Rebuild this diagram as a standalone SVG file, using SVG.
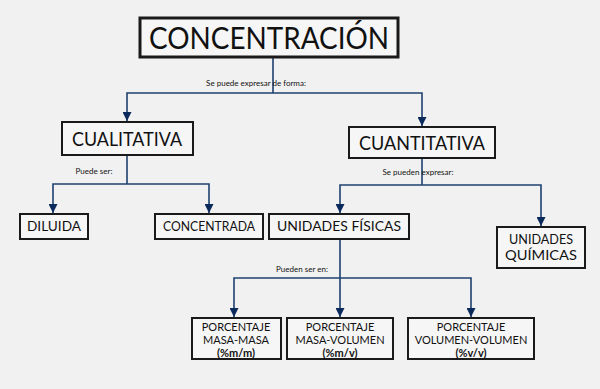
<svg xmlns="http://www.w3.org/2000/svg" width="600" height="389" viewBox="0 0 600 389">
<defs>
<style>
.box{fill:#f6f6f6;stroke:#1a1a1a;stroke-width:2}
.big{stroke-width:3}
.t{font-family:Lato,"Open Sans",sans-serif;fill:#111;text-anchor:middle}
.lbl{font-family:Lato,"Open Sans",sans-serif;fill:#111;font-size:8px;text-anchor:middle}
.c{fill:none;stroke:#1f4170;stroke-width:1.6}
</style>
<marker id="ah" viewBox="0 0 10 10" refX="10" refY="5" markerWidth="9" markerHeight="9" markerUnits="userSpaceOnUse" orient="auto">
<path d="M0,0 L10,5 L0,10 z" fill="#0b2a5c"/>
</marker>
</defs>
<rect width="600" height="389" fill="#f1f1f1"/>
<g id="connectors">
<path class="c" d="M273,57 V93"/>
<path class="c" d="M273,93 H127 V121" marker-end="url(#ah)"/>
<path class="c" d="M273,93 H422 V126" marker-end="url(#ah)"/>
<path class="c" d="M127,155 V184"/>
<path class="c" d="M127,184 H53 V213" marker-end="url(#ah)"/>
<path class="c" d="M127,184 H209 V213" marker-end="url(#ah)"/>
<path class="c" d="M422,158 V185"/>
<path class="c" d="M422,185 H340 V213" marker-end="url(#ah)"/>
<path class="c" d="M422,185 H541 V226" marker-end="url(#ah)"/>
<path class="c" d="M340,239 V317" marker-end="url(#ah)"/>
<path class="c" d="M340,278 H234 V317" marker-end="url(#ah)"/>
<path class="c" d="M340,278 H471 V317" marker-end="url(#ah)"/>
<text class="lbl" x="256" y="86">Se puede expresar de forma:</text>
<text class="lbl" x="94" y="174">Puede ser:</text>
<text class="lbl" x="418" y="175">Se pueden expresar:</text>
<text class="lbl" x="302" y="272">Pueden ser en:</text>
</g>
<g id="concentracion">
<rect class="box big" x="140" y="18" width="258" height="39"/>
<text class="t" x="269" y="49" font-size="30" textLength="240" lengthAdjust="spacingAndGlyphs">CONCENTRACIÓN</text>
</g>
<g id="cualitativa">
<rect class="box" x="62" y="122" width="131" height="33"/>
<text class="t" x="127" y="146" font-size="20" textLength="110" lengthAdjust="spacingAndGlyphs">CUALITATIVA</text>
</g>
<g id="cuantitativa">
<rect class="box" x="349" y="127" width="146" height="31"/>
<text class="t" x="422" y="150" font-size="20" textLength="126" lengthAdjust="spacingAndGlyphs">CUANTITATIVA</text>
</g>
<g id="diluida">
<rect class="box" x="20" y="214" width="68" height="25"/>
<text class="t" x="54" y="231" font-size="13" textLength="54" lengthAdjust="spacingAndGlyphs">DILUIDA</text>
</g>
<g id="concentrada">
<rect class="box" x="155" y="214" width="108" height="25"/>
<text class="t" x="209" y="231" font-size="13" textLength="92" lengthAdjust="spacingAndGlyphs">CONCENTRADA</text>
</g>
<g id="unidades-fisicas">
<rect class="box" x="269" y="214" width="140" height="25"/>
<text class="t" x="339" y="231" font-size="13" textLength="124" lengthAdjust="spacingAndGlyphs">UNIDADES FÍSICAS</text>
</g>
<g id="unidades-quimicas">
<rect class="box" x="497" y="227" width="88" height="41"/>
<text class="t" x="541" y="244" font-size="13" textLength="64" lengthAdjust="spacingAndGlyphs">UNIDADES</text>
<text class="t" x="541" y="260" font-size="13" textLength="72" lengthAdjust="spacingAndGlyphs">QUÍMICAS</text>
</g>
<g id="masa-masa">
<rect class="box" x="192" y="318" width="89" height="41"/>
<text class="t" x="236" y="331" font-size="11">PORCENTAJE</text>
<text class="t" x="236" y="344" font-size="11">MASA-MASA</text>
<text class="t" x="236" y="357" font-size="11" font-weight="bold">(%m/m)</text>
</g>
<g id="masa-volumen">
<rect class="box" x="287" y="318" width="106" height="41"/>
<text class="t" x="340" y="331" font-size="11">PORCENTAJE</text>
<text class="t" x="340" y="344" font-size="11">MASA-VOLUMEN</text>
<text class="t" x="340" y="357" font-size="11" font-weight="bold">(%m/v)</text>
</g>
<g id="volumen-volumen">
<rect class="box" x="408" y="318" width="126" height="41"/>
<text class="t" x="471" y="331" font-size="11">PORCENTAJE</text>
<text class="t" x="471" y="344" font-size="11">VOLUMEN-VOLUMEN</text>
<text class="t" x="471" y="357" font-size="11" font-weight="bold">(%v/v)</text>
</g>
</svg>
